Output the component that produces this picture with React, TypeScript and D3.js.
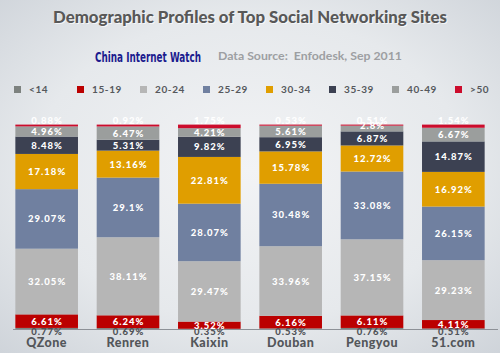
import { useEffect } from 'react';
import * as d3 from 'd3';

// Sites and age brackets, values in % (Enfodesk, Sep 2011)
const sites = ['QZone', 'Renren', 'Kaixin', 'Douban', 'Pengyou', '51.com'];
const ageGroups = ['<14', '15-19', '20-24', '25-29', '30-34', '35-39', '40-49', '>50'];

const under14 = [0.77, 0.69, 0.35, 0.53, 0.76, 0.51];
const age15to19 = [6.61, 6.24, 3.52, 6.16, 6.11, 4.11];
const age20to24 = [32.05, 38.11, 29.47, 33.96, 37.15, 29.23];
const age25to29 = [29.07, 29.1, 28.07, 30.48, 33.08, 26.15];
const age30to34 = [17.18, 13.16, 22.81, 15.78, 12.72, 16.92];
const age35to39 = [8.48, 5.31, 9.82, 6.95, 6.87, 14.87];
const age40to49 = [4.96, 6.47, 4.21, 5.61, 2.8, 6.67];
const over50 = [0.88, 0.92, 1.75, 0.53, 0.51, 1.54];

const seriesValues = [under14, age15to19, age20to24, age25to29, age30to34, age35to39, age40to49, over50];
const groupColors = ['#7d827f', '#bb0000', '#b6b6b6', '#7080a0', '#e09e00', '#3c4152', '#9b9e9d', '#cc0c2c'];

const W = 500;
const H = 353;
const LABEL_FONT = 'Lato, "Open Sans", sans-serif';

export default function App() {
  useEffect(() => {
    document.body.style.margin = '0';
  }, []);

  const rows = sites.map((site, i) => {
    const row: Record<string, number | string> = { site };
    ageGroups.forEach((g, k) => (row[g] = seriesValues[k][i]));
    return row;
  });
  const stacked = d3.stack<Record<string, number | string>>().keys(ageGroups).value((d, key) => d[key] as number)(rows);

  const x = d3.scaleBand().domain(sites).range([6, 494]).paddingInner(0.23).paddingOuter(0.115);
  const y = d3.scaleLinear().domain([0, 100]).range([329.5, 124.6]);
  const legendX = d3.scalePoint().domain(ageGroups).range([14, 455]);
  const colorOf = d3.scaleOrdinal<string, string>().domain(ageGroups).range(groupColors);

  const fmt = (v: number) => `${v}%`;

  return (
    <svg width={W} height={H} style={{ display: 'block' }} xmlns="http://www.w3.org/2000/svg">
      <defs>
        <radialGradient id="bg" cx="50%" cy="48%" r="72%">
          <stop offset="0%" stopColor="#f2f3f5" />
          <stop offset="60%" stopColor="#e6e9ec" />
          <stop offset="100%" stopColor="#cfd4da" />
        </radialGradient>
      </defs>
      <rect width={W} height={H} fill="url(#bg)" />

      {/* Title block */}
      <text x={W / 2 + 1} y={24} textAnchor="middle" fontFamily={LABEL_FONT} fontWeight={900} fontSize={16}
        fill="#ffffff" opacity={0.7} textLength={394} lengthAdjust="spacingAndGlyphs">
        Demographic Profiles of Top Social Networking Sites
      </text>
      <text x={W / 2} y={23} textAnchor="middle" fontFamily={LABEL_FONT} fontWeight={900} fontSize={16}
        fill="#585858" textLength={394} lengthAdjust="spacingAndGlyphs">
        Demographic Profiles of Top Social Networking Sites
      </text>
      <text x={95} y={61.5} fontFamily='"Liberation Sans Narrow", "Arial Narrow", "DejaVu Sans Condensed", sans-serif'
        fontWeight={700} fontSize={14} fill="#1b1b8e" textLength={106} lengthAdjust="spacingAndGlyphs">
        China Internet Watch
      </text>
      <text x={218} y={60} fontFamily={LABEL_FONT} fontWeight={700} fontSize={10.5} fill="#9d9fa2"
        textLength={184} lengthAdjust="spacingAndGlyphs" xmlSpace="preserve">
        Data Source:  Enfodesk, Sep 2011
      </text>

      {/* Legend */}
      {ageGroups.map((g) => (
        <g key={g} transform={`translate(${legendX(g)},0)`}>
          <rect x={0} y={86} width={7} height={7} fill={colorOf(g)} />
          <text x={15} y={92.5} fontFamily={LABEL_FONT} fontWeight={700} fontSize={10} letterSpacing={0.6} fill="#55585c">
            {g}
          </text>
        </g>
      ))}

      {/* Stacked bars */}
      {stacked.map((layer) => (
        <g key={layer.key} fill={colorOf(layer.key)}>
          {layer.map((d, i) => (
            <rect key={sites[i]} x={x(sites[i])} width={x.bandwidth()} y={y(d[1])} height={y(d[0]) - y(d[1])} />
          ))}
        </g>
      ))}

      {/* Baseline */}
      <line x1={13} x2={498} y1={329.5} y2={329.5} stroke="#8d9197" strokeWidth={1} />

      {/* Segment value labels */}
      {stacked.map((layer) =>
        layer.map((d, i) => {
          const v = d[1] - d[0];
          const top = y(d[1]);
          const bottom = y(d[0]);
          const h = bottom - top;
          let cy = (top + bottom) / 2;
          let fill = '#ffffff';
          if (layer.key === '>50') cy = top - 4.5;
          else if (layer.key === '<14') {
            cy = bottom + 1.5;
            fill = '#505358';
          } else if (h < 7) cy -= 3.5;
          return (
            <text key={layer.key + sites[i]} x={(x(sites[i]) ?? 0) + x.bandwidth() / 2 + 0.5} y={cy}
              dominantBaseline="central" textAnchor="middle" fontFamily={LABEL_FONT} fontWeight={900}
              fontSize={9.5} letterSpacing={1} fill={fill}>
              {fmt(+v.toFixed(2))}
            </text>
          );
        })
      )}

      {/* Category labels */}
      {sites.map((s) => (
        <text key={s} x={(x(s) ?? 0) + x.bandwidth() / 2} y={347} textAnchor="middle" fontFamily={LABEL_FONT}
          fontWeight={900} fontSize={12.5} letterSpacing={0.5} fill="#53565a">
          {s}
        </text>
      ))}
    </svg>
  );
}
